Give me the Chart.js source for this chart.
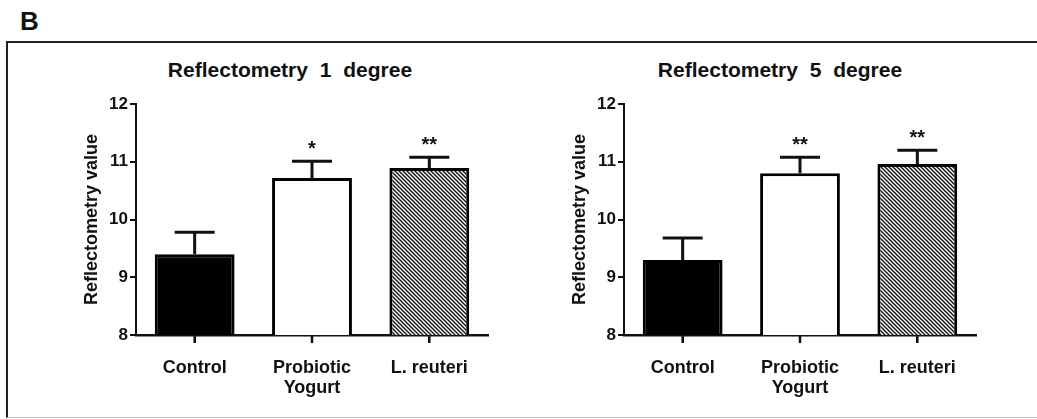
<!DOCTYPE html>
<html lang="en">
<head>
  <meta charset="UTF-8">
  <title>Reflectometry</title>
  <script src="https://cdn.jsdelivr.net/npm/chart.js"></script>
  <style>
    body { margin: 0; background: #fff; font-family: "Liberation Sans", Arial, sans-serif; color: #111; }
    #page { position: relative; width: 1037px; height: 419px; overflow: hidden; }
    #panel_letter { position: absolute; left: 20px; top: 8px; font-size: 26px; line-height: 26px; font-weight: bold; }
    #frame { position: absolute; left: 6px; top: 41px; width: 1040px; height: 374px;
             border-top: 2px solid #222; border-left: 2px solid #222; border-bottom: 1px solid #bbb; }
    .chart_title { position: absolute; top: 58px; font-size: 21px; line-height: 24px; font-weight: bold;
                   word-spacing: 6px; white-space: nowrap; transform: translateX(-50%); }
    .chart_box { position: absolute; top: 0; height: 419px; }
  </style>
</head>
<body>
<div id="page">
  <div id="frame"></div>
  <div id="panel_letter">B</div>
  <div class="chart_title" style="left:290px">Reflectometry 1 degree</div>
  <div class="chart_title" style="left:780px">Reflectometry 5 degree</div>
  <div class="chart_box" style="left:0px; width:518px"><canvas id="chart_1deg"></canvas></div>
  <div class="chart_box" style="left:518px; width:519px"><canvas id="chart_5deg"></canvas></div>
</div>

<script>
  // values (mean and error bar height)
  var categories = ['Control', ['Probiotic', 'Yogurt'], 'L. reuteri'];
  var yTicks = [8, 9, 10, 11, 12];

  var deg1Mean = [9.40, 10.72, 10.89];
  var deg1Sem = [0.38, 0.29, 0.19];
  var deg1Stars = ['', '*', '**'];

  var deg5Mean = [9.30, 10.80, 10.96];
  var deg5Sem = [0.38, 0.28, 0.24];
  var deg5Stars = ['', '**', '**'];

  Chart.defaults.font.family = '"Liberation Sans", Arial, sans-serif';
  Chart.defaults.color = '#111';

  // diagonal hatch for the L. reuteri bar
  function makeHatch() {
    var c = document.createElement('canvas');
    c.width = 4;
    c.height = 4;
    var g = c.getContext('2d');
    g.fillStyle = '#fff';
    g.fillRect(0, 0, 4, 4);
    g.strokeStyle = '#1a1a1a';
    g.lineWidth = 1.5;
    g.beginPath();
    g.moveTo(-1, -1); g.lineTo(5, 5);
    g.moveTo(-1, 3); g.lineTo(1, 5);
    g.moveTo(3, -1); g.lineTo(5, 1);
    g.stroke();
    return g.createPattern(c, 'repeat');
  }
  var hatch = makeHatch();

  function makeErrorPlugin(sem, stars) {
    return {
      id: 'errorBars',
      afterDraw(chart) {
        var ctx = chart.ctx;
        var yScale = chart.scales.y;
        var values = chart.data.datasets[0].data;
        var bars = chart.getDatasetMeta(0).data;
        var bottom = yScale.getPixelForValue(yTicks[0]);
        ctx.save();
        ctx.strokeStyle = '#111';
        ctx.fillStyle = '#111';
        ctx.font = 'bold 20px "Liberation Sans", Arial, sans-serif';
        ctx.textAlign = 'center';
        ctx.textBaseline = 'alphabetic';
        bars.forEach(function (bar, i) {
          var top = yScale.getPixelForValue(values[i] + sem[i]);
          ctx.lineWidth = 3;
          ctx.beginPath();
          ctx.moveTo(bar.x, bar.y);
          ctx.lineTo(bar.x, top);
          ctx.moveTo(bar.x - 20, top);
          ctx.lineTo(bar.x + 20, top);
          ctx.stroke();
          if (stars[i]) {
            ctx.fillText(stars[i], bar.x, top - 6);
          }
          // category tick mark under the x axis
          ctx.fillRect(bar.x - 1.25, bottom, 2.5, 8);
        });
        ctx.restore();
      }
    };
  }

  function buildChart(canvasId, means, sem, stars, padLeft, padRight) {
    return new Chart(document.getElementById(canvasId), {
      type: 'bar',
      data: {
        labels: categories,
        datasets: [{
          data: means,
          backgroundColor: ['#000', '#fff', hatch],
          borderColor: '#000',
          borderWidth: 3,
          borderSkipped: false,
          barPercentage: 0.68,
          categoryPercentage: 1
        }]
      },
      options: {
        responsive: true,
        maintainAspectRatio: false,
        animation: false,
        layout: { padding: { left: padLeft, right: padRight, top: 104, bottom: 0 } },
        plugins: {
          legend: { display: false },
          tooltip: { enabled: false }
        },
        scales: {
          x: {
            grid: { display: true, offset: false, drawOnChartArea: false, drawTicks: true,
                    tickLength: 8, color: '#111', lineWidth: 2 },
            border: { color: '#111', width: 2.5 },
            ticks: { color: '#111', font: { size: 18, weight: 'bold', lineHeight: 1.11 },
                     padding: 15, maxRotation: 0 },
            afterFit: function (s) { s.height = 84; }
          },
          y: {
            min: yTicks[0],
            max: yTicks[yTicks.length - 1],
            ticks: { stepSize: 1, color: '#111', font: { size: 17, weight: 'bold' }, padding: 2 },
            grid: { display: true, drawOnChartArea: false, drawTicks: true,
                    tickLength: 6, color: '#111', lineWidth: 2 },
            border: { color: '#111', width: 2 },
            title: { display: true, text: 'Reflectometry value', color: '#111',
                     font: { size: 18, weight: 'bold' }, padding: { top: 51, bottom: 0 } },
            afterFit: function (s) { s.width = 106; }
          }
        }
      },
      plugins: [makeErrorPlugin(sem, stars)]
    });
  }

  buildChart('chart_1deg', deg1Mean, deg1Sem, deg1Stars, 30, 30);
  buildChart('chart_5deg', deg5Mean, deg5Sem, deg5Stars, 0, 61);
</script>
</body>
</html>
